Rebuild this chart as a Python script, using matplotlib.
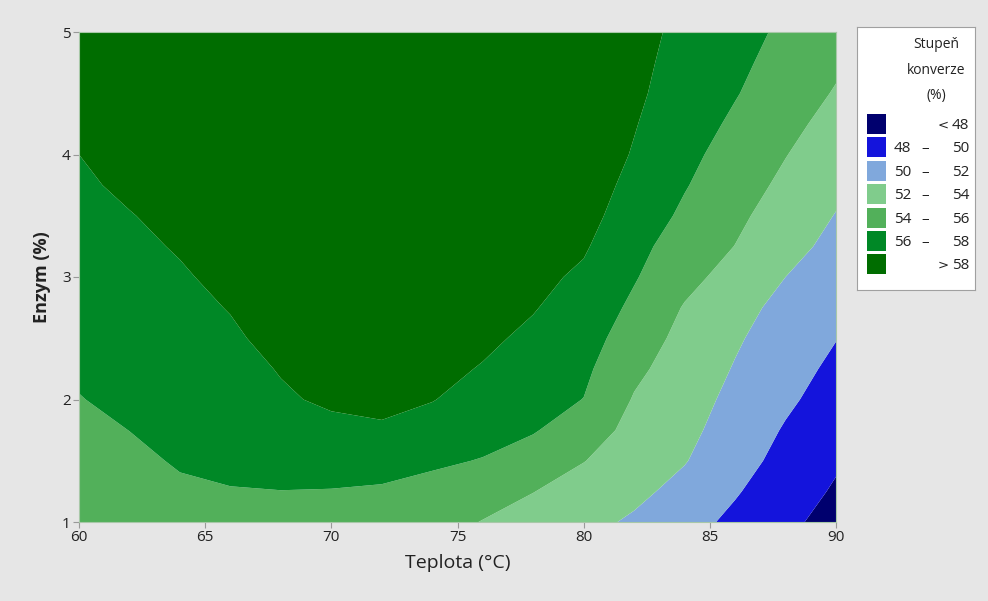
import numpy as np
import matplotlib
matplotlib.use("Agg")
import matplotlib.pyplot as plt
from matplotlib.patches import Rectangle

plt.rcParams['font.family'] = ['Open Sans', 'DejaVu Sans']

# Grid of the response surface
teplota = [60, 62, 64, 66, 68, 70, 72, 74, 76, 78, 80, 82, 84, 86, 88, 90]
enzym = [1.0, 1.25, 1.5, 1.75, 2.0, 2.25, 2.5, 2.75, 3.0, 3.25, 3.5, 3.75, 4.0, 4.25, 4.5, 4.75, 5.0]

konverze = [
    [54.92, 55.19, 55.54, 55.60, 55.65, 55.60, 55.40, 54.75, 53.93, 53.23, 52.53, 51.74, 50.68, 49.59, 48.41, 47.33],
    [55.18, 55.46, 55.82, 55.94, 55.98, 55.93, 55.80, 55.45, 54.85, 54.04, 53.24, 52.44, 51.43, 50.16, 48.96, 47.78],
    [55.43, 55.74, 56.11, 56.30, 56.52, 56.74, 56.65, 56.27, 55.92, 55.00, 54.05, 53.07, 52.10, 50.71, 49.43, 48.24],
    [55.69, 56.01, 56.39, 56.65, 57.05, 57.60, 57.80, 57.23, 56.60, 56.16, 54.87, 53.49, 52.46, 51.21, 49.83, 48.69],
    [55.95, 56.33, 56.75, 57.15, 57.80, 58.25, 58.40, 58.07, 57.25, 56.66, 55.97, 53.86, 52.73, 51.57, 50.34, 49.15],
    [56.20, 56.60, 57.05, 57.47, 58.09, 58.58, 58.66, 58.45, 57.90, 57.16, 56.38, 54.42, 53.06, 51.89, 50.74, 49.60],
    [56.46, 56.87, 57.30, 57.77, 58.47, 58.80, 58.85, 58.70, 58.32, 57.66, 56.80, 55.05, 53.42, 52.21, 51.14, 50.05],
    [56.72, 57.13, 57.57, 58.07, 58.60, 58.95, 59.00, 58.95, 58.65, 58.10, 57.22, 55.63, 53.87, 52.60, 51.49, 50.52],
    [56.98, 57.40, 57.83, 58.40, 58.85, 59.10, 59.15, 59.10, 58.95, 58.45, 57.70, 56.15, 54.57, 53.29, 52.00, 50.99],
    [57.23, 57.66, 58.13, 58.70, 59.00, 59.20, 59.25, 59.20, 59.10, 58.80, 58.20, 56.58, 55.07, 53.97, 52.66, 51.46],
    [57.49, 57.93, 58.45, 58.85, 59.10, 59.30, 59.35, 59.30, 59.20, 59.00, 58.60, 57.10, 55.67, 54.40, 53.12, 51.93],
    [57.74, 58.30, 58.70, 59.00, 59.25, 59.40, 59.45, 59.40, 59.30, 59.15, 59.00, 57.44, 56.12, 54.85, 53.61, 52.41],
    [58.00, 58.50, 58.90, 59.15, 59.35, 59.50, 59.55, 59.50, 59.40, 59.30, 59.10, 57.87, 56.47, 55.28, 54.06, 52.90],
    [58.26, 58.70, 59.05, 59.30, 59.45, 59.60, 59.65, 59.60, 59.50, 59.40, 59.20, 58.10, 56.85, 55.70, 54.51, 53.38],
    [58.50, 58.90, 59.20, 59.45, 59.60, 59.70, 59.75, 59.70, 59.60, 59.50, 59.30, 58.30, 57.20, 56.11, 54.99, 53.86],
    [58.70, 59.05, 59.35, 59.55, 59.70, 59.80, 59.85, 59.80, 59.70, 59.60, 59.40, 58.45, 57.37, 56.39, 55.36, 54.30],
    [58.90, 59.20, 59.45, 59.65, 59.80, 59.90, 59.95, 59.90, 59.80, 59.70, 59.50, 58.60, 57.55, 56.64, 55.68, 54.60],
]

levels = [40, 48, 50, 52, 54, 56, 58, 70]
colors = ['#00006E', '#1414DC', '#80A8DC', '#80CC8C', '#52B05A', '#008826', '#006D00']
legend_labels = [('<', '48'), ('48', '50'), ('50', '52'), ('52', '54'),
                 ('54', '56'), ('56', '58'), ('>', '58')]

W, H = 988, 601
fig = plt.figure(figsize=(W / 100, H / 100), dpi=100)
fig.patch.set_facecolor('#E6E6E6')

ax = fig.add_axes([79 / W, 1 - 522 / H, (836 - 79) / W, (522 - 32) / H])
X, Y = np.meshgrid(teplota, enzym)
ax.contourf(X, Y, np.array(konverze), levels=levels, colors=colors, antialiased=True)
ax.set_xlim(60, 90)
ax.set_ylim(1, 5)
ax.set_xticks([60, 65, 70, 75, 80, 85, 90])
ax.set_yticks([1, 2, 3, 4, 5])
ax.tick_params(direction='out', length=4, width=0.8, color='#999999',
               labelsize=11, labelcolor='#222222', pad=2)
for s in ax.spines.values():
    s.set_color('#A8C8A8')
    s.set_linewidth(0.8)
ax.set_xlabel('Teplota (°C)', fontsize=14, color='#222222', labelpad=6)
ax.set_ylabel('Enzym (%)', fontsize=13, fontweight='bold', color='#222222', labelpad=8)

# Legend panel
lx0, ly0, lx1, ly1 = 857, 27, 975, 290
lax = fig.add_axes([lx0 / W, 1 - ly1 / H, (lx1 - lx0) / W, (ly1 - ly0) / H])
lax.set_xlim(0, lx1 - lx0)
lax.set_ylim(ly1 - ly0, 0)
lax.set_xticks([])
lax.set_yticks([])
lax.set_facecolor('white')
for s in lax.spines.values():
    s.set_color('#A0A0A0')
    s.set_linewidth(0.8)
for txt, yy in [('Stupeň', 18), ('konverze', 44), ('(%)', 69)]:
    lax.text(79, yy, txt, ha='center', va='center', fontsize=10, color='#222222')
for i, (c, (a, b)) in enumerate(zip(colors, legend_labels)):
    yc = 97 + i * 23.4
    yb = yc + 5
    lax.add_patch(Rectangle((10, yc - 10), 19, 20, facecolor=c, edgecolor='none'))
    if a in ('<', '>'):
        lax.text(86, yc + 1, a, ha='center', va='center', fontsize=9.5, color='#222222',
                 family='DejaVu Sans')
    else:
        lax.text(37, yb, a, ha='left', va='baseline', fontsize=11, color='#222222')
        lax.text(68, yb, '–', ha='center', va='baseline', fontsize=11, color='#222222')
    lax.text(112, yb, b, ha='right', va='baseline', fontsize=11, color='#222222')

fig.savefig('out.png', dpi=100, facecolor=fig.get_facecolor())
